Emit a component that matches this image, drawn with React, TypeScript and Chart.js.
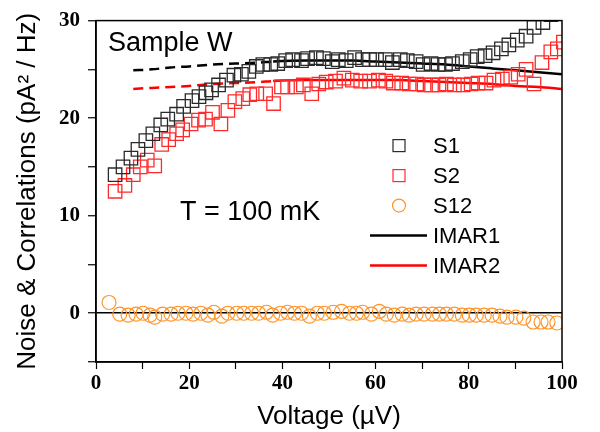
import React, { useEffect, useRef } from "react";
import { Chart, registerables } from "chart.js";

Chart.register(...registerables);

// ---- Data ----
const s1Voltage = [4.1, 5.8, 7.5, 9.0, 10.7, 12.2, 13.9, 15.4, 17.3, 18.8, 20.6, 22.1, 23.6, 24.8, 26.3, 28.0, 29.6, 31.2, 32.8, 34.4, 35.8, 37.5, 39.0, 40.7, 42.2, 44.1, 45.4, 47.3, 48.8, 50.7, 52.0, 53.7, 55.5, 57.2, 58.7, 60.2, 62.1, 63.6, 65.3, 66.8, 68.7, 70.2, 71.9, 73.4, 75.0, 76.5, 78.6, 80.3, 81.8, 83.5, 85.2, 87.0, 88.6, 90.4, 92.3, 94.0, 95.9, 97.6, 99.3];
const s1Noise = [14.2, 15.0, 15.9, 16.8, 17.7, 18.4, 19.3, 19.9, 20.4, 21.2, 21.8, 22.2, 22.6, 22.9, 23.4, 23.9, 24.4, 24.5, 24.8, 25.3, 25.5, 25.5, 25.6, 25.9, 26.0, 25.9, 26.1, 26.2, 26.1, 25.8, 26.0, 25.9, 26.2, 26.0, 26.0, 26.0, 26.0, 25.7, 26.0, 25.9, 25.8, 25.5, 25.6, 25.5, 25.5, 25.6, 25.8, 26.0, 26.3, 26.4, 26.7, 27.1, 27.5, 28.0, 28.4, 29.3, 29.8, 30.6, 31.0];

const s2Voltage = [4.1, 6.2, 8.0, 9.5, 11.0, 12.6, 14.1, 15.6, 17.3, 18.6, 20.4, 22.0, 23.5, 25.0, 26.8, 28.3, 29.8, 31.5, 33.0, 34.5, 36.4, 38.1, 39.8, 41.1, 43.0, 44.5, 46.3, 47.8, 49.4, 51.4, 53.2, 55.0, 56.8, 58.7, 60.6, 62.2, 63.8, 65.6, 67.2, 68.8, 70.4, 72.0, 73.6, 75.2, 76.9, 78.8, 80.5, 82.0, 83.7, 85.4, 87.2, 89.0, 90.6, 92.3, 94.0, 95.7, 97.6, 99.0, 100.3];
const s2Noise = [12.5, 13.1, 14.2, 15.0, 15.7, 15.1, 17.3, 17.8, 18.4, 18.8, 19.4, 19.8, 19.9, 20.6, 19.4, 20.8, 21.7, 22.0, 22.4, 22.5, 22.5, 21.5, 23.2, 23.2, 23.2, 23.4, 22.5, 23.5, 23.7, 23.8, 24.1, 23.9, 23.8, 23.8, 23.9, 23.8, 23.6, 23.6, 23.5, 23.5, 23.4, 23.4, 23.4, 23.5, 23.4, 23.4, 23.5, 23.6, 23.6, 23.9, 24.0, 24.2, 24.5, 25.0, 23.5, 25.7, 26.8, 27.1, 27.8];

const s12Voltage = [2.8, 5.1, 6.9, 8.6, 10.1, 11.6, 12.6, 14.3, 16.1, 17.6, 19.3, 20.8, 22.5, 24.0, 25.3, 27.0, 28.3, 30.2, 31.7, 33.4, 34.9, 36.6, 37.9, 39.6, 41.1, 42.6, 44.1, 45.8, 47.5, 49.0, 50.9, 52.7, 54.4, 55.9, 57.2, 59.1, 60.8, 62.3, 64.0, 65.7, 67.2, 68.7, 70.4, 72.2, 73.7, 75.2, 76.9, 78.6, 80.1, 81.6, 83.3, 85.0, 86.7, 88.2, 90.1, 91.8, 93.8, 95.5, 97.0, 98.9];
const s12Corr = [1.1, -0.1, -0.2, -0.1, 0.0, -0.2, -0.4, -0.1, -0.1, 0.0, 0.0, -0.1, 0.0, -0.2, 0.1, -0.3, 0.0, 0.0, 0.0, 0.0, 0.0, 0.1, -0.2, 0.0, 0.1, 0.0, 0.0, -0.3, 0.0, 0.0, 0.1, 0.2, 0.0, 0.0, 0.1, -0.1, 0.2, -0.1, -0.2, -0.1, -0.2, -0.1, -0.1, -0.1, -0.1, -0.1, -0.1, -0.2, -0.2, -0.2, -0.2, -0.2, -0.3, -0.4, -0.4, -0.5, -0.9, -0.9, -0.9, -1.0];

const imarVoltage = [8, 12, 16, 20, 25, 30, 35, 38, 45, 50, 55, 60, 65, 70, 75, 80, 85, 90, 95, 100];
const imar1 = [24.9, 25.0, 25.2, 25.3, 25.5, 25.6, 25.7, 25.8, 25.9, 25.9, 25.9, 25.8, 25.7, 25.6, 25.5, 25.3, 25.1, 24.9, 24.7, 24.5];
const imar2 = [23.0, 23.1, 23.2, 23.3, 23.5, 23.6, 23.7, 23.8, 23.9, 23.9, 23.9, 23.9, 23.9, 23.8, 23.7, 23.6, 23.5, 23.3, 23.2, 23.0];
const dashedUntil = 38;

const seriesLabels = ["S1", "S2", "S12", "IMAR1", "IMAR2"];
const xTicksLabelled = [0, 20, 40, 60, 80, 100];
const yTicksLabelled = [0, 10, 20, 30];

const pairs = (xs: number[], ys: number[]) => xs.map((x, i) => ({ x, y: ys[i] }));

const SANS = "'Liberation Sans', Arial, Helvetica, sans-serif";
const SERIF = "'Liberation Serif', 'Times New Roman', serif";

const insidePlugin = {
  id: "insideDecor",
  afterDraw(chart: any) {
    const { ctx, chartArea } = chart;
    const { left, top, right, bottom } = chartArea;
    ctx.save();
    // frame
    ctx.strokeStyle = "#000";
    ctx.lineWidth = 1.5;
    ctx.strokeRect(left, top, right - left, bottom - top);

    // annotations
    ctx.fillStyle = "#000";
    ctx.textBaseline = "alphabetic";
    ctx.textAlign = "left";
    ctx.font = `27px ${SANS}`;
    ctx.fillText("Sample W", left + 12, top + 30);
    ctx.fillText("T = 100 mK", left + 84, top + 199);

    // legend
    const markerX = left + 303;
    const textX = left + 337;
    const firstY = top + 125;
    const gap = 30;
    ctx.font = `22px ${SANS}`;
    chart.data.datasets.forEach((ds: any, i: number) => {
      const y = firstY + i * gap;
      if (ds.showLine) {
        ctx.strokeStyle = ds.borderColor;
        ctx.lineWidth = ds.borderWidth;
        ctx.setLineDash([]);
        ctx.beginPath();
        ctx.moveTo(left + 274, y);
        ctx.lineTo(left + 331, y);
        ctx.stroke();
      } else {
        ctx.strokeStyle = ds.borderColor;
        ctx.lineWidth = 1.2;
        if (ds.pointStyle === "rect") {
          ctx.strokeRect(markerX - 6, y - 6, 12, 12);
        } else {
          ctx.beginPath();
          ctx.arc(markerX, y, 6.5, 0, Math.PI * 2);
          ctx.stroke();
        }
      }
      ctx.fillStyle = "#000";
      ctx.textBaseline = "middle";
      ctx.fillText(ds.label, textX, y + 1);
    });
    ctx.restore();
  },
};

export default function App() {
  const ref = useRef<HTMLCanvasElement | null>(null);
  useEffect(() => {
    if (!ref.current) return;
    const dashSeg = {
      borderDash: (c: any) => (c.p1.parsed.x <= dashedUntil ? [10, 6] : undefined),
    };
    const chart = new Chart(ref.current, {
      type: "scatter",
      data: {
        datasets: [
          {
            label: seriesLabels[0],
            data: pairs(s1Voltage, s1Noise),
            pointStyle: "rect",
            pointRadius: 9.5,
            pointBorderWidth: 1.3,
            borderColor: "#2a2a2a",
            backgroundColor: "rgba(0,0,0,0)",
            showLine: false,
          },
          {
            label: seriesLabels[1],
            data: pairs(s2Voltage, s2Noise),
            pointStyle: "rect",
            pointRadius: 9.5,
            pointBorderWidth: 1.3,
            borderColor: "#ff2a2a",
            backgroundColor: "rgba(0,0,0,0)",
            showLine: false,
          },
          {
            label: seriesLabels[2],
            data: pairs(s12Voltage, s12Corr),
            pointStyle: "circle",
            pointRadius: 7,
            pointBorderWidth: 1.2,
            borderColor: "#ff9428",
            backgroundColor: "rgba(0,0,0,0)",
            showLine: false,
          },
          {
            label: seriesLabels[3],
            data: pairs(imarVoltage, imar1),
            showLine: true,
            pointRadius: 0,
            borderColor: "#000",
            borderWidth: 2.5,
            cubicInterpolationMode: "monotone",
            segment: dashSeg,
          } as any,
          {
            label: seriesLabels[4],
            data: pairs(imarVoltage, imar2),
            showLine: true,
            pointRadius: 0,
            borderColor: "#ff0000",
            borderWidth: 2.5,
            cubicInterpolationMode: "monotone",
            segment: dashSeg,
          } as any,
        ],
      },
      options: {
        responsive: false,
        animation: false,
        devicePixelRatio: 1,
        layout: { padding: { top: 18, right: 38, left: 0, bottom: 0 } },
        plugins: { legend: { display: false }, tooltip: { enabled: false } },
        scales: {
          x: {
            type: "linear",
            min: 0,
            max: 100,
            afterFit: (s: any) => {
              s.height = 70;
            },
            ticks: {
              stepSize: 10,
              autoSkip: false,
              maxRotation: 0,
              padding: 2,
              color: "#000",
              font: { family: SERIF, weight: "bold", size: 21 },
              callback: (v: any) => (xTicksLabelled.includes(Number(v)) ? String(v) : ""),
            },
            grid: { drawOnChartArea: false, tickLength: 7, tickColor: "#000", tickWidth: 1.2 },
            border: { color: "#000", width: 1.5 },
            title: {
              display: true,
              text: "Voltage (\u00B5V)",
              color: "#000",
              font: { family: SANS, size: 26 },
              padding: { top: 0, bottom: 0 },
            },
          },
          y: {
            type: "linear",
            min: -5,
            max: 30,
            afterFit: (s: any) => {
              s.width = 96;
            },
            ticks: {
              stepSize: 5,
              autoSkip: false,
              padding: 8,
              color: "#000",
              font: { family: SERIF, weight: "bold", size: 21 },
              callback: (v: any) => (yTicksLabelled.includes(Number(v)) ? String(v) : ""),
            },
            grid: {
              drawOnChartArea: true,
              color: (c: any) => (c.tick && c.tick.value === 0 ? "#000" : "rgba(0,0,0,0)"),
              lineWidth: 1.5,
              tickLength: 8,
              tickColor: "#000",
              tickWidth: 1.2,
            },
            border: { color: "#000", width: 1.5 },
            title: {
              display: true,
              text: "Noise & Correlations (pA\u00B2 / Hz)",
              color: "#000",
              font: { family: SANS, size: 26 },
              padding: { top: 12, bottom: 0 },
            },
          },
        },
      } as any,
      plugins: [insidePlugin],
    });
    return () => chart.destroy();
  }, []);
  return (
    <div style={{ position: "fixed", left: 0, top: 0, width: 600, height: 432, background: "#fff" }}>
      <canvas ref={ref} width={600} height={432} />
    </div>
  );
}
